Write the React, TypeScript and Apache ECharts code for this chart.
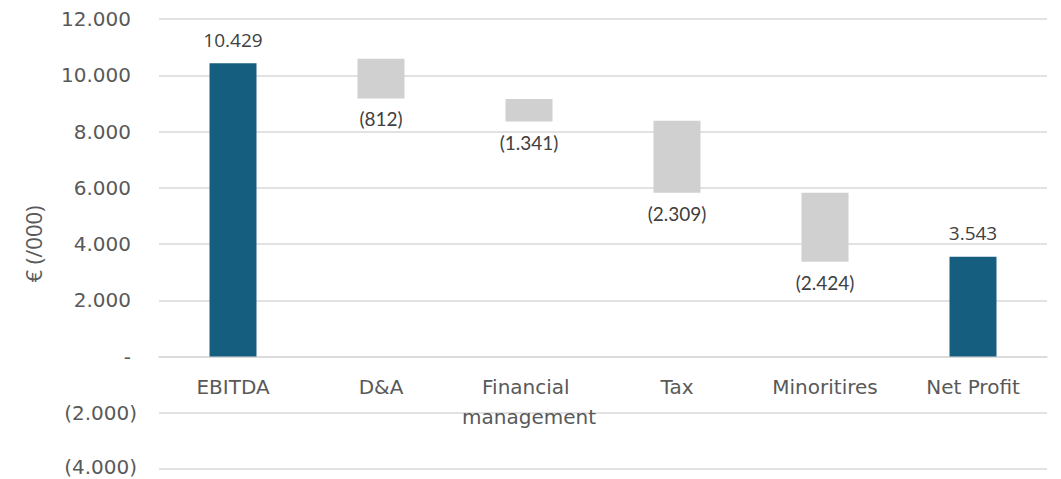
import React, { useEffect, useRef } from "react";
import * as echarts from "echarts";

const categories = ["EBITDA", "D&A", "Financial management", "Tax", "Minoritires", "Net Profit"];
// values printed in the labels
const reportedValues = [10429, -812, -1341, -2309, -2424, 3543];
// blue total bars
const totalValues = [10429, 0, 0, 0, 0, 3543];
// invisible base of the floating bars
const floatBase = [0, 9175, 8355, 5825, 3370, 0];
// visible height of the floating bars
const floatSize = [0, 1410, 805, 2555, 2450, 0];
const yTicks = { min: -4000, max: 12000, interval: 2000 };

const thousands = (n: number) => String(Math.abs(n)).replace(/\B(?=(\d{3})+(?!\d))/g, ".");
const fmtSigned = (n: number) => (n < 0 ? "(" + thousands(n) + ")" : thousands(n));

const GRAY_TEXT = "#595959";
const GRID = "#d9d9d9";
const AXIS_FONT = "DejaVu Sans";
const GRID_TOP = 19;
const GRID_BOTTOM = 10;
const CHART_H = 479;

export default function App() {
  const ref = useRef<HTMLDivElement>(null);
  useEffect(() => {
    if (!ref.current) return;
    const chart = echarts.init(ref.current, null, { renderer: "svg" });
    const plotH = CHART_H - GRID_TOP - GRID_BOTTOM;
    // distance of the zero line above the bottom of the plot, from the axis range
    const zeroOffset = (plotH * (0 - yTicks.min)) / (yTicks.max - yTicks.min);
    const yRich = { color: GRAY_TEXT, fontFamily: AXIS_FONT, fontSize: 20, lineHeight: 18 };
    chart.setOption({
      animation: false,
      backgroundColor: "#ffffff",
      grid: {
        left: 159,
        right: 14,
        top: GRID_TOP,
        bottom: GRID_BOTTOM,
        containLabel: false,
        outerBoundsMode: "none",
      },
      xAxis: {
        type: "category",
        data: categories,
        offset: -zeroOffset,
        axisLine: { show: true, onZero: false, lineStyle: { color: GRID, width: 1.5 } },
        axisTick: { show: false },
        axisLabel: {
          color: GRAY_TEXT,
          fontFamily: AXIS_FONT,
          fontSize: 20,
          lineHeight: 30,
          margin: 15,
          width: 140,
          overflow: "break",
          interval: 0,
        },
      },
      yAxis: {
        type: "value",
        min: yTicks.min,
        max: yTicks.max,
        interval: yTicks.interval,
        name: "€ (/000)",
        nameLocation: "middle",
        nameGap: 115,
        nameTextStyle: { color: GRAY_TEXT, fontFamily: "Open Sans", fontSize: 22 },
        axisLine: { show: false },
        axisTick: { show: false },
        splitLine: { lineStyle: { color: GRID, width: 1.5 } },
        axisLabel: {
          margin: 22,
          color: GRAY_TEXT,
          fontFamily: AXIS_FONT,
          fontSize: 20,
          formatter: (v: number) => {
            if (v === 0) return "{p|-}";
            if (v > 0) return "{p|" + thousands(v) + "}";
            if (v === yTicks.min) return "{b|(" + thousands(v) + ")}";
            return "{n|(" + thousands(v) + ")}";
          },
          rich: {
            p: { ...yRich, padding: [0, 6, 0, 0] },
            n: { ...yRich },
            b: { ...yRich, padding: [0, 0, 5, 0] },
          },
        },
      },
      series: [
        {
          type: "bar",
          stack: "w",
          data: floatBase,
          barWidth: 47,
          silent: true,
          itemStyle: { color: "transparent" },
        },
        {
          type: "bar",
          stack: "w",
          data: floatSize,
          barWidth: 47,
          itemStyle: { color: "#d0d0d0" },
          label: {
            show: true,
            position: "bottom",
            distance: 11,
            color: "#404040",
            fontFamily: "Lato",
            fontSize: 19,
            formatter: (p: any) => (floatSize[p.dataIndex] ? fmtSigned(reportedValues[p.dataIndex]) : ""),
          },
        },
        {
          type: "bar",
          stack: "w",
          data: totalValues,
          barWidth: 47,
          itemStyle: { color: "#165e80" },
          label: {
            show: true,
            position: "top",
            distance: 14,
            color: "#404040",
            fontFamily: "Open Sans",
            fontSize: 19,
            formatter: (p: any) => (totalValues[p.dataIndex] ? fmtSigned(reportedValues[p.dataIndex]) : ""),
          },
        },
      ],
    });
    return () => chart.dispose();
  }, []);
  return (
    <div
      ref={ref}
      style={{ position: "fixed", left: 0, top: 0, width: 1061, height: CHART_H }}
    />
  );
}
